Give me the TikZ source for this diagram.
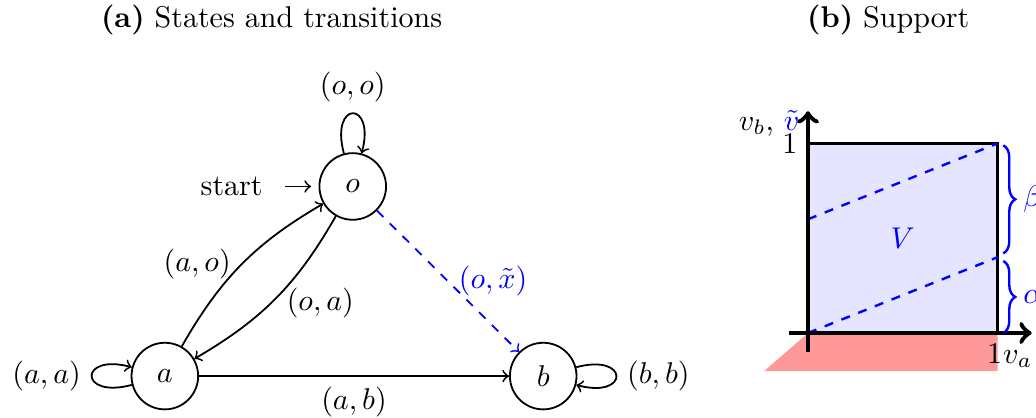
\documentclass[tikz,border=0pt]{standalone}
\usepackage{amsmath,amssymb}
\usepackage{xcolor}
\usetikzlibrary{positioning,decorations.pathreplacing}

\begin{document}
\begin{tikzpicture}[state/.style={circle, draw, semithick, minimum size=0.78cm, inner sep=0pt},
                    every loop/.style={looseness=8}]
        \useasboundingbox (0,0) rectangle (12.13,4.883);
        % Titles
        \node (ttla) at (3.18,4.65) {\textbf{(a)} States and transitions};
        \node (ttlb) at (10.40,4.65) {\textbf{(b)} Support};
        % Nodes
        \node[state] (o) at (4.13,2.70) {$o$};
        \node[state] (a) at (1.93,0.48) {$a$};
        \node[state] (b) at (6.36,0.48) {$b$};
        \node (start) [left=0.53cm of o] {start};
        \draw[->, semithick, shorten <=4pt, shorten >=2.5pt] (start) -- (o);
        % Self-loops
        \path[->, semithick] (o) edge[loop above] node[above] {$(o,o)$} (o);
        \path[->, semithick] (a) edge[loop left] node[left] {$(a,a)$} (a);
        \path[->, semithick] (b) edge[loop right] node[right] {$(b,b)$} (b);
        % Edges
        \draw[->, semithick] (a) to[bend left=15] node[left] {$(a,o)$} (o);
        \draw[->, semithick] (o) to[bend left=15] node[below right, yshift=7pt] {$(o,a)$} (a);
        \draw[->, semithick] (a) -- node[below] {$(a,b)$} (b);
        \draw[->, semithick, blue, dashed] (o) -- node[right] {$(o,\tilde{x})$} (b);
        % Support
        \begin{scope}[shift={(9.46,0.984)}, x=2.22cm, y=2.22cm]
            \fill[red!40] (0,0) -- (1,0) -- (1,-0.2) -- (-0.23,-0.2) -- cycle;
            \draw[very thick, fill=blue!10] (0,0) rectangle (1,1);
            \draw[blue, thick, dashed] (0,0) -- (1,0.4);
            \draw[blue, thick, dashed] (0,0.6) -- (1,1);
            \node[blue] (vset) at (0.5,0.5) {$V$};
            \draw[->, ultra thick] (-0.1,0) -- (1.18,0) node[below left, inner sep=0pt, xshift=1pt, yshift=-5pt] {$v_a$};
            \draw[->, ultra thick] (0,-0.1) -- (0,1.17) node[left, inner sep=2pt, yshift=-4pt] {$v_b$, $\color{blue}\tilde{v}$};
            \node[left] (one1) at (0,1) {1};
            \node[below, xshift=-1pt] (one2) at (1,0) {1};
            % Braces
            \draw[blue, thick, decorate, decoration={brace, amplitude=4pt}]
                (1.03,0.38) -- (1.03,0) node[midway, right=3pt] {$\alpha$};
            \draw[blue, thick, decorate, decoration={brace, amplitude=4pt}]
                (1.03,0.99) -- (1.03,0.42) node[midway, right=3pt] {$\beta$};
        \end{scope}
    \end{tikzpicture}
\end{document}
